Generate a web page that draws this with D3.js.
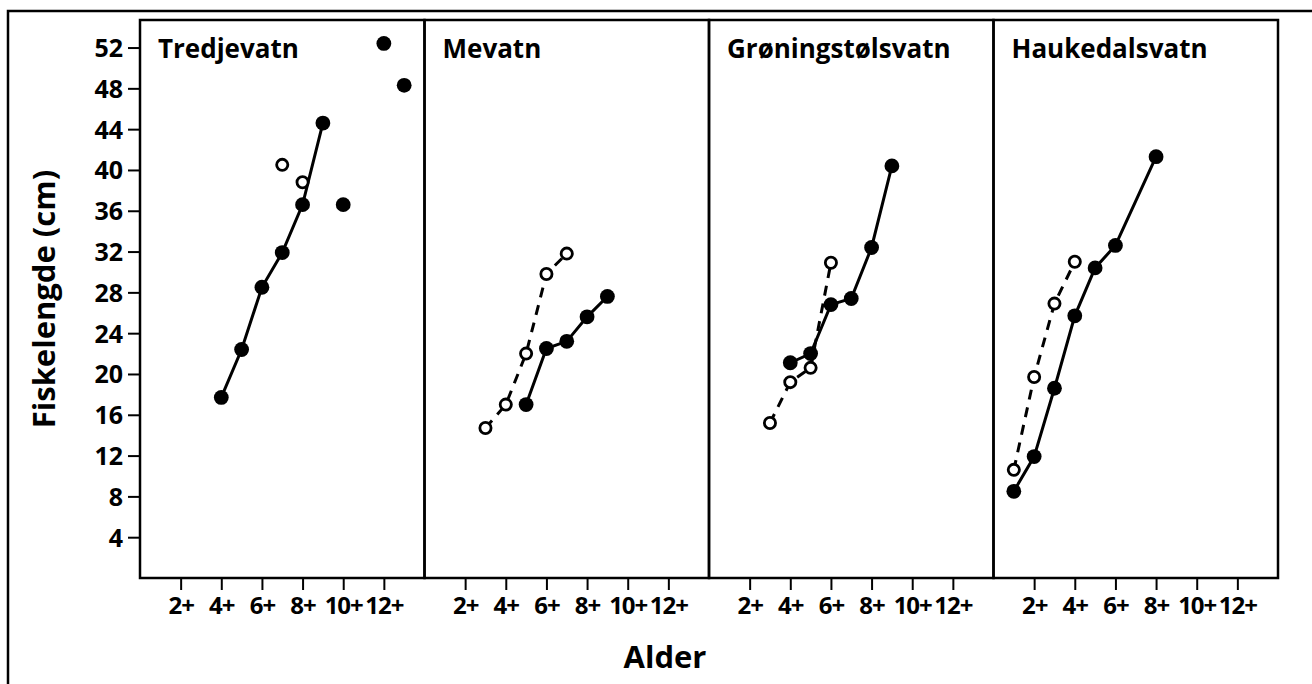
<!DOCTYPE html>
<html>
<head>
<meta charset="utf-8">
<script src="https://cdnjs.cloudflare.com/ajax/libs/d3/7.8.5/d3.min.js"></script>
<style>
body{margin:0;background:#fff}
text{font-family:"Open Sans",sans-serif;font-weight:bold;fill:#000}
</style>
</head>
<body>
<svg id="graph"></svg>
<script>
// lakes and ticks
var lakes = ["Tredjevatn", "Mevatn", "Grøningstølsvatn", "Haukedalsvatn"]
var ageTicks = [2, 4, 6, 8, 10, 12]
var lengthTicks = [4, 8, 12, 16, 20, 24, 28, 32, 36, 40, 44, 48, 52]

// [alder, fiskelengde cm]
var tredjevatnLine = [[4, 17.7], [5, 22.4], [6, 28.5], [7, 31.9], [8, 36.6], [9, 44.6]]
var tredjevatnLoose = [[10, 36.6], [12, 52.4], [13, 48.3]]
var tredjevatnOpen = [[7, 40.5], [8, 38.8]]

var mevatnLine = [[5, 17.0], [6, 22.5], [7, 23.2], [8, 25.6], [9, 27.6]]
var mevatnOpen = [[3, 14.7], [4, 17.0], [5, 22.0], [6, 29.8], [7, 31.8]]

var groningLine = [[4, 21.1], [5, 22.0], [6, 26.8], [7, 27.4], [8, 32.4], [9, 40.4]]
var groningOpen = [[3, 15.2], [4, 19.2], [5, 20.6], [6, 30.9]]

var haukedalLine = [[1, 8.5], [2, 11.9], [3, 18.6], [4, 25.7], [5, 30.4], [6, 32.6], [8, 41.3]]
var haukedalOpen = [[1, 10.6], [2, 19.7], [3, 26.9], [4, 31.0]]

var panels = [
  {name: lakes[0], line: tredjevatnLine, loose: tredjevatnLoose, open: tredjevatnOpen, dashed: false},
  {name: lakes[1], line: mevatnLine, loose: [], open: mevatnOpen, dashed: true},
  {name: lakes[2], line: groningLine, loose: [], open: groningOpen, dashed: true},
  {name: lakes[3], line: haukedalLine, loose: [], open: haukedalOpen, dashed: true}
]

var screen = {width: 1312, height: 684}
var plot = {left: 140, right: 1278, top: 20, bottom: 578}

var svg = d3.select("#graph")
  .attr("width", screen.width)
  .attr("height", screen.height)

// outer frame
svg.append("rect")
  .attr("x", 8).attr("y", 11)
  .attr("width", screen.width).attr("height", screen.height)
  .attr("fill", "none").attr("stroke", "#000").attr("stroke-width", 2.5)

var panelScale = d3.scaleBand()
  .domain(lakes)
  .range([plot.left, plot.right])

var xscale = d3.scaleLinear()
  .domain([0, 14])
  .range([0, panelScale.bandwidth()])

var yscale = d3.scaleLinear()
  .domain([0, 54.7])
  .range([plot.bottom, plot.top])

var line = d3.line()
  .x(function(d) { return xscale(d[0]) })
  .y(function(d) { return yscale(d[1]) })

// y axis on first panel
var yAxis = svg.append("g")
  .attr("transform", "translate(" + plot.left + ",0)")
  .call(d3.axisLeft(yscale).tickValues(lengthTicks).tickSize(12).tickPadding(5))
yAxis.select(".domain").remove()
yAxis.selectAll("line").attr("stroke-width", 2)
yAxis.selectAll("text").style("font-size", "25px").attr("dy", "0.36em")

var g = svg.selectAll(".panel")
  .data(panels)
  .enter()
  .append("g")
  .attr("class", "panel")
  .attr("transform", function(p) { return "translate(" + panelScale(p.name) + ",0)" })

g.each(function(p) {
  var panel = d3.select(this)

  var xAxis = panel.append("g")
    .attr("transform", "translate(0," + plot.bottom + ")")
    .call(d3.axisBottom(xscale).tickValues(ageTicks).tickSize(12).tickPadding(7)
      .tickFormat(function(d) { return d + "+" }))
  xAxis.select(".domain").remove()
  xAxis.selectAll("line").attr("stroke-width", 2)
  xAxis.selectAll("text").style("font-size", "24px").style("letter-spacing", "-1px")

  panel.append("rect")
    .attr("x", 0).attr("y", plot.top)
    .attr("width", panelScale.bandwidth())
    .attr("height", plot.bottom - plot.top)
    .attr("fill", "none").attr("stroke", "#000").attr("stroke-width", 2.5)

  panel.append("text")
    .attr("x", 18).attr("y", 58)
    .style("font-size", "26px")
    .text(p.name)

  panel.append("path")
    .datum(p.line)
    .attr("d", line)
    .attr("fill", "none").attr("stroke", "#000").attr("stroke-width", 3)

  if (p.dashed) {
    panel.append("path")
      .datum(p.open)
      .attr("d", line)
      .attr("fill", "none").attr("stroke", "#000").attr("stroke-width", 3)
      .attr("stroke-dasharray", "10,8")
  }

  panel.selectAll(".filled")
    .data(p.line.concat(p.loose))
    .enter()
    .append("circle")
    .attr("cx", function(d) { return xscale(d[0]) })
    .attr("cy", function(d) { return yscale(d[1]) })
    .attr("r", 7.4)
    .attr("fill", "#000")

  panel.selectAll(".open")
    .data(p.open)
    .enter()
    .append("circle")
    .attr("cx", function(d) { return xscale(d[0]) })
    .attr("cy", function(d) { return yscale(d[1]) })
    .attr("r", 5.6)
    .attr("fill", "#fff").attr("stroke", "#000").attr("stroke-width", 2.8)
})

svg.append("text")
  .attr("transform", "translate(55," + (plot.top + plot.bottom) / 2 + ") rotate(-90)")
  .attr("text-anchor", "middle")
  .style("font-size", "31px")
  .text("Fiskelengde (cm)")

svg.append("text")
  .attr("x", 665).attr("y", 668)
  .attr("text-anchor", "middle")
  .style("font-size", "31px")
  .text("Alder")
</script>
</body>
</html>
